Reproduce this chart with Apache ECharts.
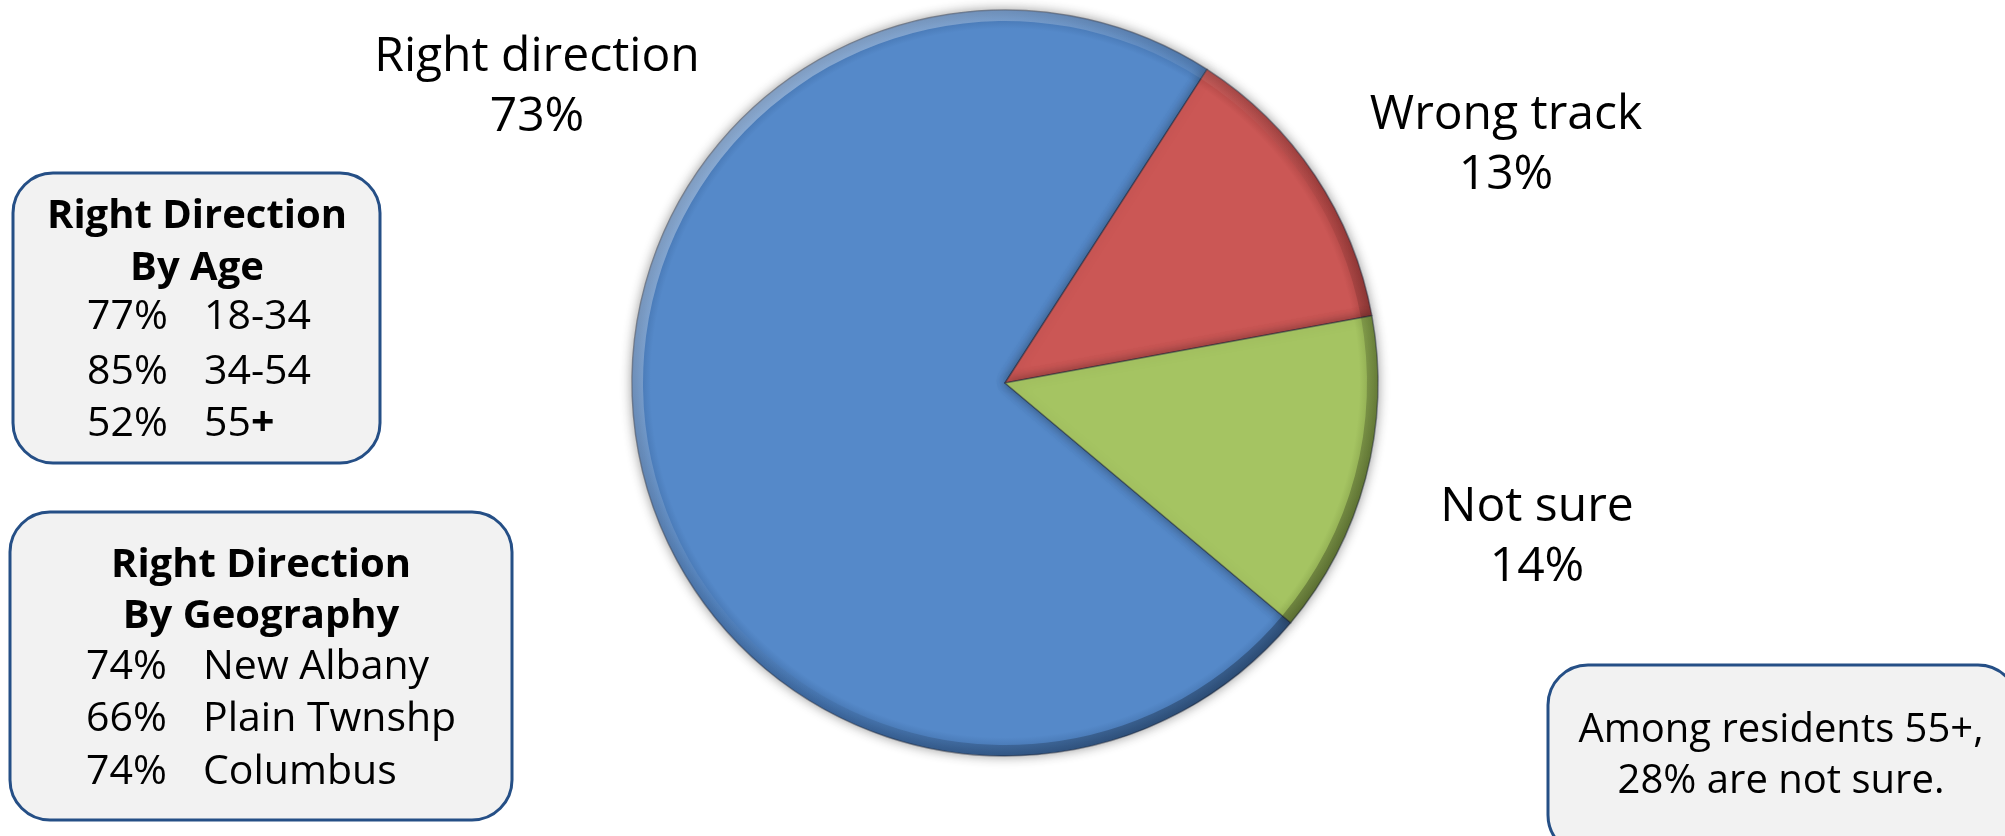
<!DOCTYPE html>
<html>
<head>
<meta charset="utf-8">
<title>Direction of the community</title>
<script src="https://cdn.jsdelivr.net/npm/echarts@6/dist/echarts.min.js"></script>
<style>
  html, body { margin: 0; padding: 0; background: #ffffff; }
  #chart { width: 2005px; height: 836px; }
</style>
</head>
<body>
<div id="chart"></div>
<script>
// Survey answers and their shares (%)
const categories = ['Right direction', 'Wrong track', 'Not sure'];
const shares = [73, 13, 14];

// "Right direction" broken down by age group
const ageGroups = ['18-34', '34-54', '55+'];
const ageShares = [77, 85, 52];

// "Right direction" broken down by geography
const places = ['New Albany', 'Plain Twnshp', 'Columbus'];
const placeShares = [74, 66, 74];

// Call-out note about older residents
const noteLines = ['Among residents 55+,', '28% are not sure.'];

// ---- layout & style ----
const FONT = '"Open Sans", "Noto Sans", sans-serif';
const CX = 1005, CY = 383, R = 373;
const sliceColors = ['#5589c9', '#cb5755', '#a5c462'];
const rimColors = ['#3d6aa3', '#a33f3d', '#7f9a45'];
const labelAnchors = [[537, 87], [1506, 145], [1537, 537]];

function sliceFill(i) {
  return {
    type: 'radial', x: CX, y: CY, r: R, global: true,
    colorStops: [
      { offset: 0, color: sliceColors[i] },
      { offset: 0.95, color: sliceColors[i] },
      { offset: 1, color: rimColors[i] }
    ]
  };
}

const pieData = categories.map((name, i) => ({
  name: name,
  value: shares[i],
  itemStyle: { color: sliceFill(i) }
}));

// Rounded info boxes with their text
function box(x, y, w, h) {
  return {
    type: 'rect', silent: true,
    shape: { x: x, y: y, width: w, height: h, r: 40 },
    style: { fill: '#f2f2f2', stroke: '#254f86', lineWidth: 3 }
  };
}
function txt(x, y, text, opts) {
  return {
    type: 'text', silent: true, x: x, y: y,
    style: Object.assign({
      text: text, font: '40px ' + FONT, fill: '#000000',
      align: 'left', verticalAlign: 'middle'
    }, opts || {})
  };
}

const graphics = [];
// Age box
graphics.push(box(13, 173, 367, 290));
graphics.push(txt(197, 217, 'Right Direction', { font: 'bold 40px ' + FONT, align: 'center' }));
graphics.push(txt(197, 269, 'By Age', { font: 'bold 40px ' + FONT, align: 'center' }));
const ageY = [317, 372, 424];
ageGroups.forEach((g, i) => {
  graphics.push(txt(87, ageY[i], ageShares[i] + '%', { font: '41px ' + FONT }));
  const label = g.endsWith('+') ? g.slice(0, -1) + '{b|+}' : g;
  graphics.push(txt(204, ageY[i], label, {
    font: '41px ' + FONT,
    rich: { b: { font: 'bold 41px ' + FONT, fill: '#000000' } }
  }));
});
// Geography box
graphics.push(box(10, 512, 502, 308));
graphics.push(txt(261, 566, 'Right Direction', { font: 'bold 40px ' + FONT, align: 'center' }));
graphics.push(txt(261, 617, 'By Geography', { font: 'bold 40px ' + FONT, align: 'center' }));
const geoY = [667, 719, 772];
places.forEach((p, i) => {
  graphics.push(txt(86, geoY[i], placeShares[i] + '%', { font: '41px ' + FONT }));
  graphics.push(txt(203, geoY[i], p, { font: '41px ' + FONT }));
});
// Note box (runs off the bottom-right corner)
graphics.push(box(1548, 665, 470, 190));
graphics.push(txt(1781, 731, noteLines[0], { align: 'center' }));
graphics.push(txt(1781, 782, noteLines[1], { align: 'center' }));

const chart = echarts.init(document.getElementById('chart'), null, { renderer: 'canvas' });
chart.setOption({
  backgroundColor: '#ffffff',
  animation: false,
  graphic: graphics,
  series: [
    {
      type: 'pie',
      center: [CX, CY],
      radius: [0, R],
      startAngle: 320,
      clockwise: true,
      avoidLabelOverlap: false,
      data: pieData,
      itemStyle: {
        borderColor: 'rgba(30,40,60,0.45)',
        borderWidth: 1.5,
        shadowBlur: 12,
        shadowColor: 'rgba(0,0,0,0.4)'
      },
      emphasis: { disabled: true },
      label: {
        show: true,
        formatter: '{b}\n{c}%',
        fontFamily: FONT,
        fontSize: 48,
        lineHeight: 60,
        color: '#000000'
      },
      labelLine: { show: false },
      labelLayout: function (p) {
        const a = labelAnchors[p.dataIndex];
        return { x: a[0], y: a[1], align: 'center', verticalAlign: 'middle' };
      }
    },
    {
      // bevelled rim: lit from the upper left, shaded toward the lower right
      type: 'pie',
      center: [CX, CY],
      radius: [R - 11, R],
      startAngle: 320,
      clockwise: true,
      silent: true,
      data: shares.map((v, i) => ({ name: categories[i], value: v })),
      itemStyle: {
        color: {
          type: 'linear', x: CX - R, y: CY - R, x2: CX + R, y2: CY + R, global: true,
          colorStops: [
            { offset: 0, color: 'rgba(255,255,255,0.5)' },
            { offset: 0.45, color: 'rgba(255,255,255,0.05)' },
            { offset: 0.6, color: 'rgba(0,0,0,0.05)' },
            { offset: 1, color: 'rgba(0,0,0,0.4)' }
          ]
        },
        borderWidth: 0
      },
      label: { show: false },
      labelLine: { show: false },
      emphasis: { disabled: true }
    }
  ]
});
</script>
</body>
</html>
